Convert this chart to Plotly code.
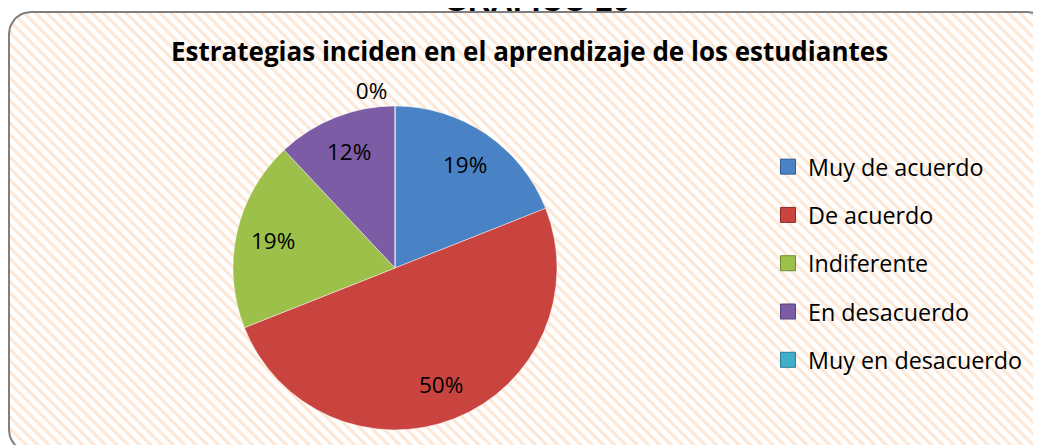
import numpy as np
import plotly.graph_objects as go

# ---- data ----
categories = ["Muy de acuerdo", "De acuerdo", "Indiferente", "En desacuerdo", "Muy en desacuerdo"]
percentages = [19, 50, 19, 12, 0]
colors = ["#4A82C6", "#C9433F", "#9CC04A", "#7D5CA6", "#3FAEC8"]
edge_colors = ["#2F5C93", "#8E2B28", "#6E8C2C", "#56407A", "#2A7E93"]
title_text = "Estrategias inciden en el aprendizaje de los estudiantes"
header_text = "GRÁFICO 20"

W, H = 1041, 445
OFF = 8  # page body margin: figure starts 8px in from the window corner
FONT = "Open Sans"

fig = go.Figure()

# ---- hatched rounded-rectangle background (decoration, window-pixel coords) ----
x0, y0, x1, y1, r = 9, 12, 1050, 452, 22
pts = []
for cx, cy, a0 in [(x1 - r, y0 + r, -90), (x1 - r, y1 - r, 0), (x0 + r, y1 - r, 90), (x0 + r, y0 + r, 180)]:
    t = np.radians(np.linspace(a0, a0 + 90, 12))
    pts += list(zip(cx + r * np.cos(t), cy + r * np.sin(t)))
pts.append(pts[0])
bx, by = zip(*pts)
fig.add_trace(go.Scatter(
    x=bx, y=by, mode="lines", fill="toself",
    line=dict(color="#7F7F7F", width=2),
    fillcolor="white",
    fillpattern=dict(shape="\\", fgcolor="#FBCDAA", bgcolor="white", size=8, solidity=0.38),
    hoverinfo="skip", showlegend=False,
))

# ---- pie ----
cxp, cyp, R = 395, 268, 162
fig.add_trace(go.Pie(
    labels=categories, values=percentages,
    sort=False, direction="clockwise", rotation=0,
    marker=dict(colors=colors, line=dict(color="rgba(255,255,255,0.45)", width=1)),
    texttemplate="%{value}%",
    textposition=["none" if v > 0 else "outside" for v in percentages],
    outsidetextfont=dict(family=FONT, size=22.5, color="black"),
    domain=dict(x=[(cxp - OFF - R) / W, (cxp - OFF + R) / W],
                y=[1 - (cyp - OFF + R) / H, 1 - (cyp - OFF - R) / H]),
    showlegend=False, hoverinfo="label+percent",
))

# inside labels placed along each slice's bisector (computed from the data)
annotations = []
cum = np.cumsum(percentages)
rl = 125
for v, c in zip(percentages, cum):
    if v <= 0:
        continue
    th = 2 * np.pi * (c - v / 2) / 100.0
    annotations.append(dict(
        text=f"{v}%", x=cxp + rl * np.sin(th), y=cyp - rl * np.cos(th), xref="x", yref="y",
        xanchor="center", yanchor="middle", showarrow=False,
        font=dict(family=FONT, size=22.5, color="black"),
    ))

# ---- legend entries ----
for name, c, ec in zip(categories, colors, edge_colors):
    fig.add_trace(go.Scatter(
        x=[None], y=[None], mode="markers", name=name, legendgroup=name,
        marker=dict(symbol="square", size=15, color=c, line=dict(color=ec, width=1)),
    ))

annotations += [
    dict(text="<b>" + title_text + "</b>", x=(529 - OFF) / W, y=1 - (51 - OFF) / H, xref="paper", yref="paper",
         xanchor="center", yanchor="middle", showarrow=False,
         font=dict(family=FONT, size=26, color="black")),
    dict(text="<b>" + header_text + "</b>", x=(537 - OFF) / W, y=1 - 12 / H, xref="paper", yref="paper",
         xanchor="center", yanchor="bottom", showarrow=False,
         font=dict(family="Liberation Sans", size=31, color="black")),
]

fig.update_layout(
    width=W, height=H,
    margin=dict(l=0, r=0, t=0, b=0),
    paper_bgcolor="white", plot_bgcolor="rgba(0,0,0,0)",
    xaxis=dict(range=[OFF, W + OFF], visible=False, fixedrange=True, domain=[0, 1]),
    yaxis=dict(range=[H + OFF, OFF], visible=False, fixedrange=True, domain=[0, 1]),
    legend=dict(
        x=(768 - OFF) / W, xanchor="left", y=1 - (145 - OFF) / H, yanchor="top",
        font=dict(family=FONT, size=23.3, color="black"),
        bgcolor="rgba(0,0,0,0)", tracegroupgap=15, itemclick=False, itemdoubleclick=False,
    ),
    annotations=annotations,
    showlegend=True,
)

fig.write_html("out.html")
